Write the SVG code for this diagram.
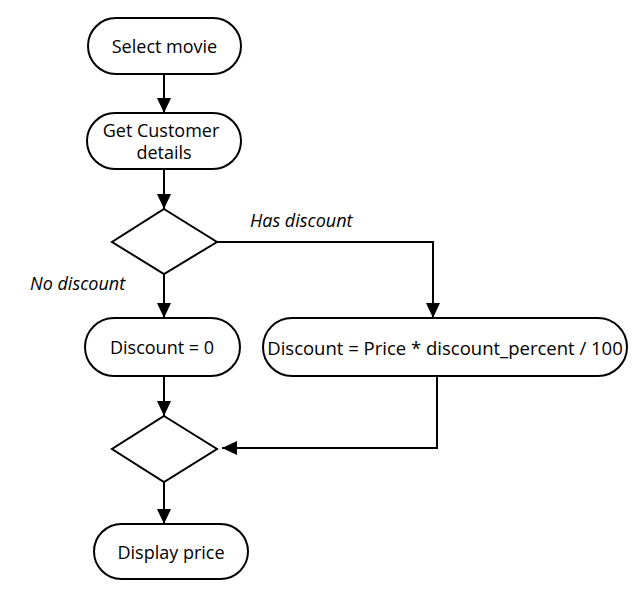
<svg xmlns="http://www.w3.org/2000/svg" width="642" height="606" viewBox="0 0 642 606">
<defs>
<style>
.n{fill:#fff;stroke:#000;stroke-width:2}
.t{font-family:"Open Sans","Noto Sans","DejaVu Sans",sans-serif;font-size:18px;fill:#000;text-anchor:middle;dominant-baseline:central}
.l{font-family:"Open Sans","Noto Sans","DejaVu Sans",sans-serif;font-size:18px;font-style:italic;fill:#000}
.c{fill:none;stroke:#000;stroke-width:2}
</style>
<marker id="ah" markerWidth="15" markerHeight="14" refX="15" refY="7" orient="auto" markerUnits="userSpaceOnUse">
<path d="M0,0 L15,7 L0,14 Z" fill="#000"/>
</marker>
</defs>
<rect width="642" height="606" fill="#fff"/>
<g id="connectors">
<path class="c" d="M164,74 L164,113" marker-end="url(#ah)"/>
<path class="c" d="M164,169 L164,209" marker-end="url(#ah)"/>
<path class="c" d="M164,274 L164,318" marker-end="url(#ah)"/>
<path class="c" d="M217,242 L433,242 L433,318" marker-end="url(#ah)"/>
<path class="c" d="M164,376 L164,416" marker-end="url(#ah)"/>
<path class="c" d="M437,376 L437,448 L222,448" marker-end="url(#ah)"/>
<path class="c" d="M164,482 L164,524" marker-end="url(#ah)"/>
<text class="l" x="250" y="227">Has discount</text>
<text class="l" x="30" y="290">No discount</text>
</g>
<g id="select-movie">
<rect class="n" x="88" y="18" width="153" height="56" rx="28"/>
<text class="t" x="164.5" y="46">Select movie</text>
</g>
<g id="get-customer">
<rect class="n" x="87" y="113" width="154" height="56" rx="28"/>
<text class="t" x="161" y="130">Get Customer</text>
<text class="t" x="164" y="152">details</text>
</g>
<g id="decision1">
<polygon class="n" points="164,209 217,242 164,274 112,242"/>
</g>
<g id="discount-zero">
<rect class="n" x="85" y="318" width="155" height="58" rx="29"/>
<text class="t" x="162" y="347">Discount = 0</text>
</g>
<g id="discount-calc">
<rect class="n" x="263" y="318" width="364" height="58" rx="29"/>
<text class="t" x="445" y="347" style="font-size:18.5px">Discount = Price * discount_percent / 100</text>
</g>
<g id="decision2">
<polygon class="n" points="164,416 217,449 164,482 112,449"/>
</g>
<g id="display-price">
<rect class="n" x="94" y="524" width="154" height="55" rx="27.5"/>
<text class="t" x="171" y="551.5">Display price</text>
</g>
</svg>
